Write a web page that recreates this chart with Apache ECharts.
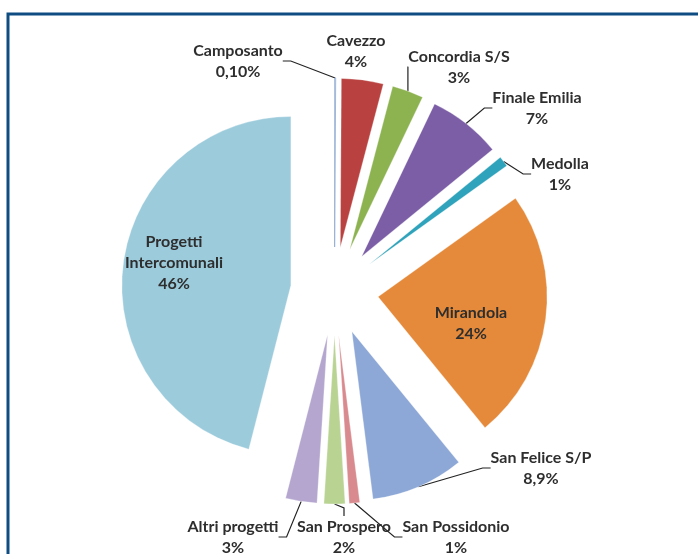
<!DOCTYPE html>
<html>
<head>
<meta charset="utf-8">
<script src="https://cdn.jsdelivr.net/npm/echarts@6/dist/echarts.min.js"></script>
<style>
html,body{margin:0;padding:0;background:#fff;}
#c{width:698px;height:554px;}
</style>
</head>
<body>
<div id="c"></div>
<script>
// Data
const categories = ['Camposanto','Cavezzo','Concordia S/S','Finale Emilia','Medolla','Mirandola','San Felice S/P','San Possidonio','San Prospero','Altri progetti','Progetti\nIntercomunali'];
const values = [0.1, 4, 3, 7, 1, 24, 8.9, 1, 2, 3, 46];
const valueLabels = ['0,10%','4%','3%','7%','1%','24%','8,9%','1%','2%','3%','46%'];

// Styles / layout (not data)
const colors = ['#e4ecf6','#b9413f','#8db351','#7b5ea6','#2fa3bb','#e58a3b','#8da8d6','#d88a8e','#b9d393','#b4a6cf','#9ccbdc'];
const insideIdx = [5, 10];
const noLineIdx = [1, 5, 10];
const labelPos = [[238,61],[356,51],[459,67],[537,108],[560,174],[471,323],[541,468],[456,537],[344,537],[233,537],[174,263]];
const CX = 334.5, CY = 291, R = 169, EXPLODE = 44;

const chart = echarts.init(document.getElementById('c'), null, {renderer:'canvas'});
const total = values.reduce((a, b) => a + b, 0);
let cum = 0;
const series = values.map((v, k) => {
  const mid = (cum + v / 2) / total * 2 * Math.PI;
  cum += v;
  const center = [CX + EXPLODE * Math.sin(mid), CY - EXPLODE * Math.cos(mid)];
  return {
    type: 'pie',
    center: center,
    radius: [0, R],
    startAngle: 90,
    clockwise: true,
    avoidLabelOverlap: false,
    emphasis: { disabled: true },
    minShowLabelAngle: 0,
    data: categories.map((n, i) => ({
      name: n,
      value: values[i],
      itemStyle: i === k
        ? { color: colors[i], borderColor: i === 0 ? '#8fa9cf' : 'rgba(255,255,255,0.6)', borderWidth: i === 0 ? 0.8 : 0.5 }
        : { color: 'rgba(0,0,0,0)', borderWidth: 0 },
      label: i === k ? { show: true, position: insideIdx.includes(i) ? 'inside' : 'outside' } : { show: false },
      labelLine: { show: i === k && !noLineIdx.includes(i) }
    })),
    label: {
      formatter: p => p.name + '\n' + valueLabels[p.dataIndex],
      fontFamily: 'Lato',
      fontWeight: 'bold',
      fontSize: 16,
      lineHeight: 21,
      color: '#2e2e2e',
      align: 'center'
    },
    labelLine: {
      length: 10,
      length2: 8,
      lineStyle: { color: '#222', width: 1.2 }
    },
    labelLayout: function (params) {
      const p = labelPos[params.dataIndex];
      return { x: p[0], y: p[1], align: 'center', verticalAlign: 'middle' };
    }
  };
});

chart.setOption({
  animation: false,
  backgroundColor: '#ffffff',
  graphic: [
    { type: 'rect', shape: { x: 8, y: 14, width: 760, height: 620 }, style: { fill: 'none', stroke: '#0f4c81', lineWidth: 3 }, z: 100 }
  ],
  series: series
});
</script>
</body>
</html>
